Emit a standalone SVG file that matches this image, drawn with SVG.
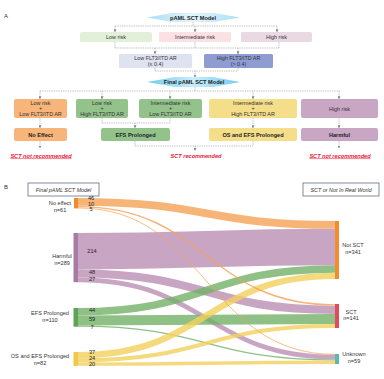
<svg xmlns="http://www.w3.org/2000/svg" width="384" height="379" viewBox="0 0 384 379">
<defs>
<style>
text{font-family:"Liberation Sans",Arial,sans-serif;fill:#333;}
.t{font-size:5.4px;text-anchor:middle;}
.b{font-size:5.6px;font-weight:bold;text-anchor:middle;fill:#222;}
.lab{font-size:7px;font-family:"Liberation Sans",Arial,sans-serif;fill:#333;}
.red{font-size:5.6px;font-weight:bold;font-style:italic;text-anchor:middle;fill:#e8203a;}
.u{text-decoration:underline;}
.dash{fill:none;stroke:#9a9a9a;stroke-width:0.6;stroke-dasharray:1.4 0.9;}
.arr{fill:none;stroke:#9a9a9a;stroke-width:0.6;stroke-dasharray:1.4 0.9;marker-end:url(#ah);}
.bl{font-size:5.6px;text-anchor:middle;fill:#333;}
.num{font-size:5.6px;text-anchor:middle;fill:#222;}
.it{font-size:5.4px;font-style:italic;text-anchor:middle;fill:#333;}
.fo{fill:none;stroke:#f4a154;stroke-opacity:0.8;}
.fm{fill:none;stroke:#bc8eb5;stroke-opacity:0.8;}
.fg{fill:none;stroke:#73b066;stroke-opacity:0.8;}
.fy{fill:none;stroke:#f1d15c;stroke-opacity:0.8;}
</style>
<marker id="ah" viewBox="0 0 6 6" refX="5" refY="3" markerWidth="3" markerHeight="3" markerUnits="userSpaceOnUse" orient="auto">
<path d="M0,0 L6,3 L0,6 z" fill="#888"/>
</marker>
<linearGradient id="g1" x1="0" y1="0" x2="1" y2="0">
<stop offset="0" stop-color="#a9def5"/><stop offset="0.5" stop-color="#e4f5fc"/><stop offset="1" stop-color="#a9def5"/>
</linearGradient>
<linearGradient id="g2" x1="0" y1="0" x2="1" y2="0">
<stop offset="0" stop-color="#6fcbef"/><stop offset="0.5" stop-color="#c9eefa"/><stop offset="1" stop-color="#6fcbef"/>
</linearGradient>
</defs>
<rect width="384" height="379" fill="#fff"/>

<text class="lab" x="4" y="18" style="font-size:6px">A</text>
<text class="lab" x="4" y="189" style="font-size:6px">B</text>

<g id="connectors">
<path class="dash" d="M193,22 V26 M115,26 H277"/>
<path class="arr" d="M115,26 V31.8"/>
<path class="arr" d="M195,26 V31.8"/>
<path class="arr" d="M277,26 V31.8"/>
<path class="dash" d="M115,42 V48 M195,42 V48 M279,42 V48 M115,48 H279"/>
<path class="arr" d="M155,48 V53.8"/>
<path class="arr" d="M238,48 V53.8"/>
<path class="dash" d="M155,68 V71 M238,68 V71 M155,71 H238"/>
<path class="arr" d="M195,71 V77"/>
<path class="dash" d="M195,87 V91 M40,91 H340"/>
<path class="arr" d="M40,91 V98.8"/>
<path class="arr" d="M102,91 V98.8"/>
<path class="arr" d="M170,91 V98.8"/>
<path class="arr" d="M253,91 V98.8"/>
<path class="arr" d="M339,91 V98.8"/>
<path class="arr" d="M40,118 V127.8"/>
<path class="dash" d="M102,118 V123 M170,118 V123 M102,123 H170"/>
<path class="arr" d="M135,123 V127.8"/>
<path class="arr" d="M253,118 V127.8"/>
<path class="arr" d="M339,118 V127.8"/>
<path class="arr" d="M40,141 V148"/>
<path class="arr" d="M339,141 V148"/>
<path class="dash" d="M135,141 V146 M253,141 V146 M135,146 H253"/>
<path class="arr" d="M195,146 V150.5"/>
</g>

<g id="banner-top">
<polygon points="147,17.5 172,13 214,13 240,17.5 214,22 172,22" fill="url(#g1)"/>
<text class="b" x="193" y="19.6">pAML SCT Model</text>
</g>
<g id="low-risk">
<rect x="80" y="32" width="72" height="10" rx="1.5" fill="#e3efd9"/>
<text class="t" x="116" y="39">Low risk</text>
</g>
<g id="intermediate-risk">
<rect x="159" y="32" width="72" height="10" rx="1.5" fill="#fbe1e4"/>
<text class="t" x="195" y="39">Intermediate risk</text>
</g>
<g id="high-risk">
<rect x="241" y="32" width="71" height="10" rx="1.5" fill="#ead8e3"/>
<text class="t" x="276.5" y="39">High risk</text>
</g>
<g id="low-flt3">
<rect x="119" y="54" width="73" height="14" rx="1.5" fill="#dfe2f1"/>
<text class="t" x="155.5" y="60">Low FLT3/ITD AR</text>
<text class="t" x="155.5" y="65.6">(≤ 0.4)</text>
</g>
<g id="high-flt3">
<rect x="204" y="54" width="69" height="14" rx="1.5" fill="#8f9cd2"/>
<text class="t" x="238.5" y="60">High FLT3/ITD AR</text>
<text class="t" x="238.5" y="65.6">(&gt; 0.4)</text>
</g>
<g id="banner-final">
<polygon points="147,82 175,77 213,77 240,82 213,87 175,87" fill="url(#g2)"/>
<text class="b" x="194" y="84">Final pAML SCT Model</text>
</g>

<g id="g-low-low">
<rect x="14" y="99" width="53" height="19" rx="2" fill="#f7b57a"/>
<text class="t" x="40.5" y="105">Low risk</text>
<text class="t" x="40.5" y="110.3">+</text>
<text class="t" x="40.5" y="116">Low FLT3/ITD AR</text>
</g>
<g id="g-low-high">
<rect x="76" y="99" width="52" height="19" rx="2" fill="#93c28b"/>
<text class="t" x="102" y="105">Low risk</text>
<text class="t" x="102" y="110.3">+</text>
<text class="t" x="102" y="116">High FLT3/ITD AR</text>
</g>
<g id="g-int-low">
<rect x="139" y="99" width="63" height="19" rx="2" fill="#93c28b"/>
<text class="t" x="170.5" y="105">Intermediate risk</text>
<text class="t" x="170.5" y="110.3">+</text>
<text class="t" x="170.5" y="116">Low FLT3/ITD AR</text>
</g>
<g id="g-int-high">
<rect x="209" y="99" width="88" height="19" rx="2" fill="#f4de8a"/>
<text class="t" x="253" y="105">Intermediate risk</text>
<text class="t" x="253" y="110.3">+</text>
<text class="t" x="253" y="116">High FLT3/ITD AR</text>
</g>
<g id="g-high">
<rect x="301" y="99" width="77" height="19" rx="2" fill="#c9a6c4"/>
<text class="t" x="339.5" y="110.5">High risk</text>
</g>

<g id="o-noeffect">
<rect x="14" y="128" width="53" height="13" rx="2" fill="#f7b57a"/>
<text class="b" x="40.5" y="136.6">No Effect</text>
</g>
<g id="o-efs">
<rect x="101" y="128" width="69" height="13" rx="2" fill="#93c28b"/>
<text class="b" x="135.5" y="136.6">EFS Prolonged</text>
</g>
<g id="o-os">
<rect x="209" y="128" width="88" height="13" rx="2" fill="#f4de8a"/>
<text class="b" x="253" y="136.6">OS and EFS Prolonged</text>
</g>
<g id="o-harmful">
<rect x="301" y="128" width="77" height="13" rx="2" fill="#c9a6c4"/>
<text class="b" x="339.5" y="136.6">Harmful</text>
</g>

<g id="rec-labels">
<text class="red u" x="41" y="157.5">SCT not recommended</text>
<text class="red" x="196" y="157.5">SCT recommended</text>
<text class="red u" x="340" y="157.5">SCT not recommended</text>
</g>

<g id="panel-b-headers">
<rect x="28" y="183" width="71" height="13" fill="#fff" stroke="#4c5a78" stroke-width="0.7"/>
<text class="it" x="63.5" y="191.5">Final pAML SCT Model</text>
<rect x="303" y="183" width="76" height="13" fill="#fff" stroke="#4c5a78" stroke-width="0.7"/>
<text class="it" x="341" y="191.5">SCT or Not In Real World</text>
</g>

<g id="flows">
<path class="fm" stroke-width="36.4" d="M78,251.2 C206.5,251.2 206.5,247 335,247"/>
<path class="fm" stroke-width="8.2" d="M78,273.5 C206.5,273.5 206.5,309.8 335,309.8"/>
<path class="fm" stroke-width="4.6" d="M78,279.9 C206.5,279.9 206.5,357.1 335,357.1"/>
<path class="fg" stroke-width="7.5" d="M78,311.75 C206.5,311.75 206.5,268.95 335,268.95"/>
<path class="fg" stroke-width="10" d="M78,320.5 C206.5,320.5 206.5,318.9 335,318.9"/>
<path class="fg" stroke-width="1.2" d="M78,326.1 C206.5,326.1 206.5,360 335,360"/>
<path class="fy" stroke-width="6.3" d="M78,355.15 C206.5,355.15 206.5,275.85 335,275.85"/>
<path class="fy" stroke-width="4.1" d="M78,360.35 C206.5,360.35 206.5,325.95 335,325.95"/>
<path class="fy" stroke-width="3.4" d="M78,364.1 C206.5,364.1 206.5,362.3 335,362.3"/>
<path class="fo" stroke-width="7.8" d="M78,201.9 C206.5,201.9 206.5,224.9 335,224.9"/>
<path class="fo" stroke-width="1.4" d="M78,206.65 C206.5,206.65 206.5,304.85 335,304.85"/>
<path class="fo" stroke-width="0.9" d="M78,207.95 C206.5,207.95 206.5,354.4 335,354.4"/>
</g>

<g id="n-noeffect">
<rect x="74" y="198" width="4" height="10.4" fill="#f08a2a"/>
<text class="bl" x="60" y="205">No effect</text>
<text class="bl" x="60" y="212">n=61</text>
<text class="num" x="91" y="200">46</text>
<text class="num" x="91" y="206">10</text>
<text class="num" x="91" y="211">5</text>
</g>
<g id="n-harmful">
<rect x="73.5" y="233" width="4.5" height="49.2" fill="#a97aa3"/>
<text class="bl" x="62" y="258">Harmful</text>
<text class="bl" x="62" y="265">n=289</text>
<text class="num" x="92" y="253">214</text>
<text class="num" x="92" y="274">48</text>
<text class="num" x="92" y="281">27</text>
</g>
<g id="n-efs">
<rect x="73.5" y="308" width="4.5" height="18.7" fill="#5ea455"/>
<text class="bl" x="50" y="315">EFS Prolonged</text>
<text class="bl" x="50" y="321.5">n=110</text>
<text class="num" x="92" y="312">44</text>
<text class="num" x="92" y="321">59</text>
<text class="num" x="92" y="329">7</text>
</g>
<g id="n-os">
<rect x="73.5" y="352" width="4.5" height="13.9" fill="#eec94a"/>
<text class="bl" x="40" y="358">OS and EFS Prolonged</text>
<text class="bl" x="40" y="365">n=82</text>
<text class="num" x="92" y="354">37</text>
<text class="num" x="92" y="360">24</text>
<text class="num" x="92" y="366">20</text>
</g>
<g id="n-notsct">
<rect x="335" y="221" width="4" height="58" fill="#f28c2c"/>
<text class="bl" x="353" y="247">Not SCT</text>
<text class="bl" x="353" y="254">n=341</text>
</g>
<g id="n-sct">
<rect x="335" y="304" width="4" height="24" fill="#e14a5a"/>
<text class="bl" x="351" y="313.5">SCT</text>
<text class="bl" x="351" y="320">n=141</text>
</g>
<g id="n-unknown">
<rect x="335" y="354" width="4" height="10" fill="#5fb8ad"/>
<text class="bl" x="354" y="356">Unknown</text>
<text class="bl" x="354" y="362.5">n=59</text>
</g>
</svg>
